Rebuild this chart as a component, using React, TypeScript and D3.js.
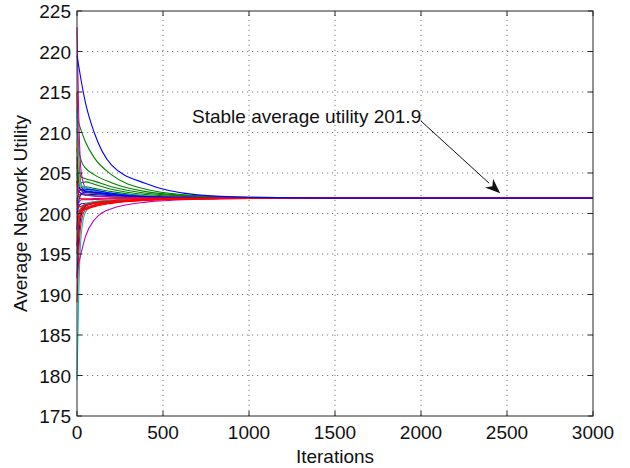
import React from 'react';
import * as d3 from 'd3';

// iteration sample points the curves were read at
const iterSamples = [0, 10, 25, 50, 100, 200, 400, 700, 1000, 1500, 3000];

// utility per node at iterSamples
const seriesValues: number[][] = [
  [212.0, 211.2, 210.2, 208.8, 206.9, 204.8, 203.0, 202.2, 202.0, 201.9, 201.9],
  [210.5, 208.0, 206.5, 205.6, 204.8, 203.8, 202.7, 202.15, 201.98, 201.9, 201.9],
  [208.0, 205.5, 204.5, 204.3, 204.0, 203.3, 202.5, 202.1, 201.95, 201.9, 201.9],
  [206.0, 204.2, 203.8, 203.9, 203.6, 203.0, 202.35, 202.05, 201.95, 201.9, 201.9],
  [205.0, 203.2, 203.2, 203.3, 203.1, 202.7, 202.2, 202.0, 201.93, 201.9, 201.9],
  [223.0, 212.0, 205.0, 203.2, 202.8, 202.5, 202.1, 201.97, 201.92, 201.9, 201.9],
  [215.0, 207.0, 203.5, 202.6, 202.6, 202.4, 202.1, 201.96, 201.92, 201.9, 201.9],
  [213.0, 206.0, 203.5, 203.0, 202.8, 202.5, 202.15, 201.98, 201.92, 201.9, 201.9],
  [209.0, 204.5, 203.0, 202.7, 202.5, 202.3, 202.05, 201.95, 201.92, 201.9, 201.9],
  [207.0, 203.8, 202.8, 202.6, 202.5, 202.3, 202.05, 201.95, 201.92, 201.9, 201.9],
  [204.0, 203.2, 202.9, 202.8, 202.65, 202.4, 202.1, 201.97, 201.92, 201.9, 201.9],
  [203.0, 202.7, 202.5, 202.4, 202.35, 202.2, 202.0, 201.93, 201.91, 201.9, 201.9],
  [202.5, 203.4, 203.4, 203.2, 202.9, 202.5, 202.1, 201.96, 201.92, 201.9, 201.9],
  [201.5, 202.6, 203.0, 203.0, 202.9, 202.5, 202.1, 201.97, 201.92, 201.9, 201.9],
  [201.0, 202.2, 202.4, 202.3, 202.2, 202.05, 201.95, 201.92, 201.91, 201.9, 201.9],
  [203.5, 202.8, 202.4, 202.25, 202.15, 202.05, 201.96, 201.92, 201.91, 201.9, 201.9],
  [198.0, 201.5, 202.4, 202.7, 202.6, 202.35, 202.05, 201.95, 201.91, 201.9, 201.9],
  [179.5, 190.0, 197.5, 200.2, 201.0, 201.4, 201.7, 201.84, 201.88, 201.9, 201.9],
  [192.0, 197.0, 199.8, 200.9, 201.25, 201.5, 201.72, 201.84, 201.88, 201.9, 201.9],
  [192.5, 193.8, 195.2, 197.2, 199.2, 200.6, 201.4, 201.75, 201.86, 201.9, 201.9],
  [196.0, 199.0, 200.4, 201.0, 201.3, 201.5, 201.72, 201.84, 201.88, 201.9, 201.9],
  [200.0, 200.9, 201.2, 201.25, 201.4, 201.58, 201.76, 201.85, 201.88, 201.9, 201.9],
  [197.0, 199.3, 200.6, 201.2, 201.45, 201.62, 201.78, 201.85, 201.89, 201.9, 201.9],
  [195.0, 198.5, 200.2, 201.0, 201.35, 201.58, 201.76, 201.85, 201.88, 201.9, 201.9],
  [201.0, 200.4, 200.8, 201.2, 201.45, 201.63, 201.78, 201.86, 201.89, 201.9, 201.9],
  [200.5, 201.3, 201.7, 201.7, 201.72, 201.8, 201.86, 201.89, 201.9, 201.9, 201.9],
  [204.0, 202.2, 201.8, 201.8, 201.85, 201.88, 201.9, 201.9, 201.9, 201.9, 201.9],
  [189.0, 195.0, 199.0, 200.5, 201.0, 201.35, 201.65, 201.82, 201.88, 201.9, 201.9],
  [198.0, 199.8, 200.6, 201.0, 201.25, 201.45, 201.7, 201.83, 201.88, 201.9, 201.9],
  [199.5, 200.0, 200.3, 200.5, 200.85, 201.25, 201.62, 201.8, 201.87, 201.9, 201.9],
  [201.5, 200.8, 200.9, 201.1, 201.35, 201.58, 201.77, 201.85, 201.89, 201.9, 201.9],
  [200.0, 200.3, 200.45, 200.6, 200.95, 201.3, 201.65, 201.82, 201.88, 201.9, 201.9],
  [196.0, 198.8, 200.1, 200.7, 201.05, 201.4, 201.68, 201.83, 201.88, 201.9, 201.9],
  [219.5, 218.2, 216.3, 213.6, 210.0, 206.0, 203.7, 202.3, 202.0, 201.9, 201.9],
];

const seriesColors = [
  '#008000', '#008000', '#008000', '#008000', '#008000',
  '#bf00bf', '#ff0000', '#00bfbf', '#bfbf00', '#404040', '#0000ff',
  '#0000ff', '#00bfbf', '#0000ff', '#008000', '#bf00bf', '#0000ff',
  '#00bfbf', '#0000ff', '#bf00bf', '#008000', '#0000ff', '#bfbf00',
  '#404040', '#00bfbf', '#bf00bf', '#ff0000', '#ff0000', '#ff0000',
  '#ff0000', '#ff0000', '#ff0000', '#ff0000', '#0000ff',
];

const xTicks = [0, 500, 1000, 1500, 2000, 2500, 3000];
const yTicks = [175, 180, 185, 190, 195, 200, 205, 210, 215, 220, 225];

const annotationText = 'Stable average utility 201.9';
const annotationTarget = { iter: 2460, value: 202.5 };

const W = 630;
const H = 468;
const m = { left: 77, right: 37, top: 11, bottom: 52 };
const font = '"Liberation Sans", Arial, sans-serif';

export default function App() {
  const x = d3.scaleLinear().domain([0, 3000]).range([m.left, W - m.right]);
  const y = d3.scaleLinear().domain([175, 225]).range([H - m.bottom, m.top]);

  const line = d3
    .line<number>()
    .x((_, i) => x(iterSamples[i]))
    .y((d) => y(d))
    .curve(d3.curveMonotoneX);

  const x0 = x.range()[0];
  const x1 = x.range()[1];
  const y0 = y.range()[0];
  const y1 = y.range()[1];
  const tick = 5;

  // arrow from the end of the label down to the converged line
  const tipX = x(annotationTarget.iter);
  const tipY = y(annotationTarget.value);
  const startX = 421;
  const startY = 121;
  const ang = Math.atan2(tipY - startY, tipX - startX);
  const headLen = 15;
  const headW = 6;
  const bx = tipX - headLen * Math.cos(ang);
  const by = tipY - headLen * Math.sin(ang);
  const head = [
    [tipX, tipY],
    [bx + headW * Math.sin(ang), by - headW * Math.cos(ang)],
    [tipX - headLen * 0.7 * Math.cos(ang), tipY - headLen * 0.7 * Math.sin(ang)],
    [bx - headW * Math.sin(ang), by + headW * Math.cos(ang)],
  ];

  return (
    <svg
      width={W}
      height={H}
      style={{ position: 'absolute', left: 0, top: 0, background: '#fff' }}
      fontFamily={font}
    >
      <rect width={W} height={H} fill="#fff" />
      {/* grid */}
      <g stroke="#7a7a7a" strokeWidth={1} strokeDasharray="1.2,3.8">
        {xTicks.slice(1, -1).map((t) => (
          <line key={'gx' + t} x1={x(t)} x2={x(t)} y1={y0} y2={y1} />
        ))}
        {yTicks.slice(1, -1).map((t) => (
          <line key={'gy' + t} x1={x0} x2={x1} y1={y(t)} y2={y(t)} />
        ))}
      </g>

      {/* curves */}
      <g fill="none" strokeWidth={1.1}>
        {seriesValues.map((vals, i) => (
          <path key={i} d={line(vals) || ''} stroke={seriesColors[i]} />
        ))}
      </g>

      {/* frame and ticks */}
      <g stroke="#262626" strokeWidth={1}>
        <rect x={x0} y={y1} width={x1 - x0} height={y0 - y1} fill="none" />
        {xTicks.map((t) => (
          <g key={'tx' + t}>
            <line x1={x(t)} x2={x(t)} y1={y0} y2={y0 - tick} />
            <line x1={x(t)} x2={x(t)} y1={y1} y2={y1 + tick} />
          </g>
        ))}
        {yTicks.map((t) => (
          <g key={'ty' + t}>
            <line x1={x0} x2={x0 + tick} y1={y(t)} y2={y(t)} />
            <line x1={x1} x2={x1 - tick} y1={y(t)} y2={y(t)} />
          </g>
        ))}
      </g>

      {/* tick labels */}
      <g fontSize={19} fill="#111">
        {xTicks.map((t) => (
          <text key={'lx' + t} x={x(t)} y={y0 + 23} textAnchor="middle">
            {t}
          </text>
        ))}
        {yTicks.map((t) => (
          <text key={'ly' + t} x={x0 - 6} y={y(t) + 7} textAnchor="end">
            {t}
          </text>
        ))}
      </g>

      {/* axis titles */}
      <text x={(x0 + x1) / 2} y={H - 5} textAnchor="middle" fontSize={19} fill="#111">
        Iterations
      </text>
      <text
        transform={`translate(27,${(y0 + y1) / 2}) rotate(-90)`}
        textAnchor="middle"
        fontSize={19}
        fill="#111"
      >
        Average Network Utility
      </text>

      {/* annotation */}
      <text x={192} y={123} fontSize={19} fill="#111">
        {annotationText}
      </text>
      <line x1={startX} y1={startY} x2={bx} y2={by} stroke="#111" strokeWidth={1} />
      <polygon points={head.map((p) => p.join(',')).join(' ')} fill="#111" />
    </svg>
  );
}
